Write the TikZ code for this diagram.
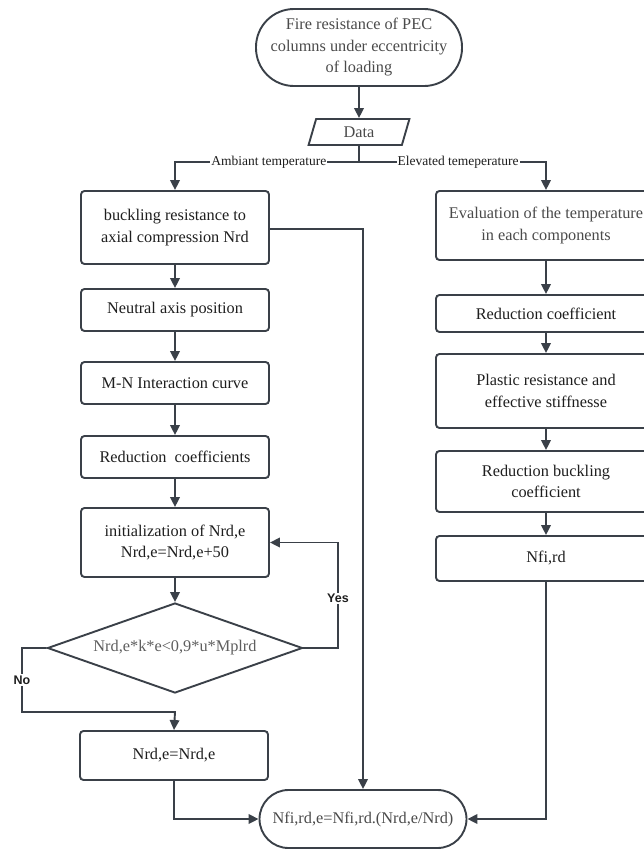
\documentclass[tikz,border=0pt]{standalone}
\usepackage{fontspec}
\setmainfont{Liberation Serif}
\newfontfamily\labelsans{Liberation Sans}
\usetikzlibrary{arrows.meta,shapes.geometric}
\definecolor{ln}{HTML}{3A4048}
\definecolor{txa}{HTML}{1E1E1E}
\definecolor{txb}{HTML}{4A4A4A}
\definecolor{txc}{HTML}{5E5E5E}
\begin{document}
\begin{tikzpicture}[x=1pt,y=-1pt,
  base/.style={draw=ln, line width=1.9pt, align=center, inner sep=0pt,
    font=\fontsize{16.3}{21.5}\selectfont, text=txa},
  box/.style={base, rectangle, rounded corners=3.5pt},
  lbox/.style={box, minimum width=188pt},
  rbox/.style={box, minimum width=220pt},
  term/.style={base, rectangle, text=txb},
  flow/.style={draw=ln, line width=1.9pt, -{Triangle[length=10pt,width=9.5pt]}},
  plain/.style={draw=ln, line width=1.9pt},
  brl/.style={fill=white, inner sep=1pt, font=\fontsize{13.5}{15}\selectfont, text=txa},
  yn/.style={fill=white, inner sep=1.5pt, font=\labelsans\bfseries\fontsize{12.5}{14}\selectfont, text=txa}
]
\useasboundingbox (0,0) rectangle (643,849);

% start / end terminals
\node[term, minimum width=206pt, minimum height=77pt, rounded corners=38pt] (start) at (359,47.5)
  {Fire resistance of PEC\\columns under eccentricity\\of loading};
\node[base, trapezium, trapezium left angle=76, trapezium right angle=104,
  trapezium stretches=true, minimum width=101pt, minimum height=26pt, text=txb] (data) at (359,132) {Data};

% left column
\node[lbox, minimum height=73pt] (b1) at (175,227.5) {buckling resistance to\\axial compression Nrd};
\node[lbox, minimum height=42pt] (b2) at (175,310) {Neutral axis position};
\node[lbox, minimum height=42pt] (b3) at (175,383) {M-N Interaction curve};
\node[lbox, minimum height=42pt] (b4) at (175,457) {Reduction\ \ coefficients};
\node[lbox, minimum height=69pt] (b5) at (175,542.5) {initialization of Nrd,e\\Nrd,e=Nrd,e+50};
\node[base, diamond, aspect=2.83, minimum width=255pt, minimum height=90pt, text=txc] (dia) at (175,648)
  {Nrd,e*k*e{<}0,9*u*Mplrd};
\node[lbox, minimum height=49pt] (b6) at (174,755.5) {Nrd,e=Nrd,e};

% right column
\node[rbox, minimum height=69pt, text=txb] (r1) at (546,225.5) {Evaluation of the temperature\\in each components};
\node[rbox, minimum height=37pt] (r2) at (546,313.5) {Reduction coefficient};
\node[rbox, minimum height=74pt] (r3) at (546,391) {Plastic resistance and\\effective stiffnesse};
\node[rbox, minimum height=61pt] (r4) at (546,481.5) {Reduction buckling\\coefficient};
\node[rbox, minimum height=45pt] (r5) at (546,558.5) {Nfi,rd};

% final terminal
\node[term, minimum width=207pt, minimum height=58pt, rounded corners=29pt] (fin) at (363,819)
  {Nfi,rd,e=Nfi,rd.(Nrd,e/Nrd)};

% helper coordinates
\coordinate (br) at (359,162);
\coordinate (bl) at (175,162);
\coordinate (bR) at (546,162);
\coordinate (yesc) at (338,648);
\coordinate (noa) at (22,648);
\coordinate (nob) at (22,712);
\coordinate (noc) at (175,712);

% connectors
\draw[flow] (start) -- (data);
\draw[plain] (data.south) -- (br);
\draw[flow] (br) -- node[brl, pos=0.49]{Ambiant temperature} (bl) -- (b1.north);
\draw[flow] (br) -- node[brl, pos=0.53]{Elevated temeperature} (bR) -- (r1.north);

\draw[flow] (b1) -- (b2);
\draw[flow] (b2) -- (b3);
\draw[flow] (b3) -- (b4);
\draw[flow] (b4) -- (b5);
\draw[flow] (b5) -- (dia);
\draw[flow] (dia.east) -- (yesc) -- node[yn, pos=0.47]{Yes} (yesc |- b5.east) -- (b5.east);
\draw[flow] (dia.west) -- (noa) -- node[yn, pos=0.5]{No} (nob) -- (noc) -- (b6.north);

\draw[flow] (r1) -- (r2);
\draw[flow] (r2) -- (r3);
\draw[flow] (r3) -- (r4);
\draw[flow] (r4) -- (r5);

\draw[flow] (b1.east |- 0,229) -- (fin.north |- 0,229) -- (fin.north);
\draw[flow] (b6.south) |- (fin.west);
\draw[flow] (r5.south) |- (fin.east);
\end{tikzpicture}
\end{document}
